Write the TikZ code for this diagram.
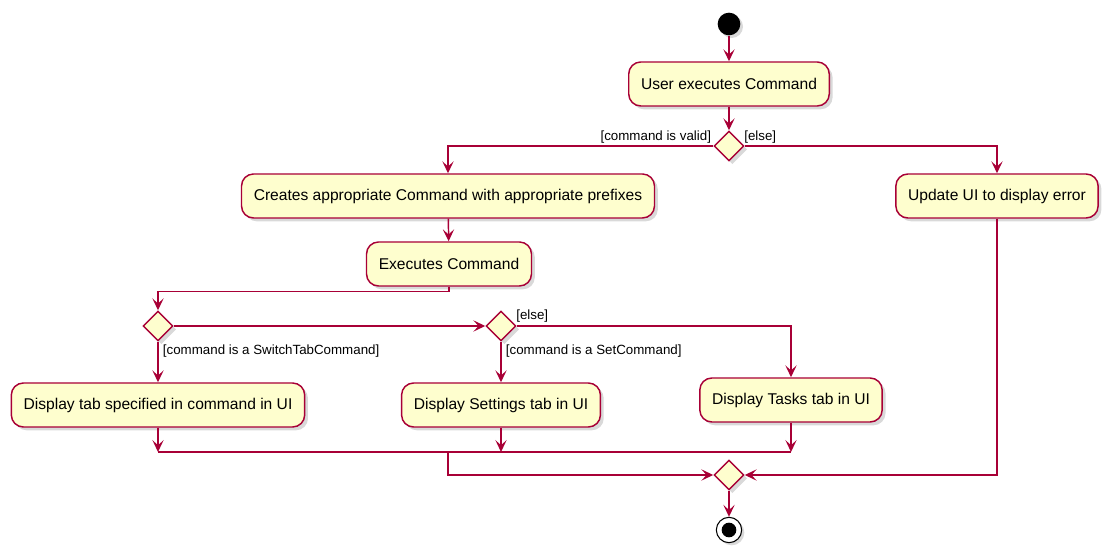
\documentclass[tikz,border=0pt]{standalone}
\usepackage{fontspec}
\setmainfont{Liberation Sans}
\usepackage{tikz}
\usetikzlibrary{shapes.geometric}
\usetikzlibrary{arrows.meta}
\usetikzlibrary{shadows}
\definecolor{umlred}{HTML}{A80036}
\definecolor{umlfill}{HTML}{FEFECE}

\begin{document}
\begin{tikzpicture}[x=0.75pt,y=-0.75pt,
        action/.style={draw=umlred,fill=umlfill,line width=1.1pt,rounded corners=9pt,
            minimum height=33pt,inner xsep=9.2pt,font=\fontsize{11.7pt}{14pt}\selectfont,
            drop shadow={shadow xshift=2.5pt,shadow yshift=-2.5pt,opacity=0.3}},
        branch/.style={diamond,draw=umlred,fill=umlfill,line width=1.1pt,inner sep=0pt,
            minimum width=22.5pt,minimum height=22.5pt,
            drop shadow={shadow xshift=2.5pt,shadow yshift=-2.5pt,opacity=0.3}},
        guard/.style={inner sep=1.5pt,font=\fontsize{10pt}{12pt}\selectfont},
        flow/.style={draw=umlred,line width=1.1pt,-{Stealth[length=9pt,width=8.5pt,inset=4pt]}},
        plain/.style={draw=umlred,line width=1.1pt}]
        \useasboundingbox (0,0) rectangle (1108,555);

        \node[circle,fill=black,minimum size=17pt,inner sep=0pt,
            drop shadow={shadow xshift=2pt,shadow yshift=-2pt,opacity=0.3}] (start) at (729,24) {};
        \node[action] (user) at (729,84) {User executes Command};
        \node[branch] (valid) at (729,146) {};
        \node[action] (create) at (448,196) {Creates appropriate Command with appropriate prefixes};
        \node[action] (update) at (997,196) {Update UI to display error};
        \node[action] (exec) at (449,264) {Executes Command};
        \node[branch] (isswitch) at (158,326) {};
        \node[branch] (isset) at (501,326) {};
        \node[action] (showtab) at (158,405) {Display tab specified in command in UI};
        \node[action] (showset) at (501,405) {Display Settings tab in UI};
        \node[action] (showtasks) at (791,400) {Display Tasks tab in UI};
        \node[branch] (merge) at (729,475) {};
        \node[circle,draw=black,fill=white,line width=0.8pt,minimum size=19pt,inner sep=0pt,
            drop shadow={shadow xshift=2pt,shadow yshift=-2pt,opacity=0.3}] (stop) at (729,530) {};
        \node[circle,fill=black,minimum size=11pt,inner sep=0pt] (stopdot) at (stop) {};

        \coordinate (jtab) at (158,452);
        \coordinate (jset) at (501,452);
        \coordinate (jtasks) at (791,452);
        \coordinate (jout) at (448,452);

        \draw[flow] (start) -- (user);
        \draw[flow] (user) -- (valid);
        \draw[flow] (valid.west) -| (create.north);
        \node[guard,anchor=south east] (gvalid) at (valid.west) {[command is valid]};
        \draw[flow] (valid.east) -| (update.north);
        \node[guard,anchor=south west] (gelse) at ([xshift=-2pt]valid.east) {[else]};
        \draw[flow] (create) -- (exec);
        \draw[flow] (exec.south) -- ++(0,5) -| (isswitch.north);
        \draw[flow] (isswitch.east) -- (isset.west);
        \draw[flow] (isswitch.south) -- (showtab.north);
        \node[guard,anchor=north west] (gswitch) at ([xshift=2pt,yshift=-1pt]isswitch.south) {[command is a SwitchTabCommand]};
        \draw[flow] (isset.south) -- (showset.north);
        \node[guard,anchor=north west] (gset) at ([xshift=2pt,yshift=-1pt]isset.south) {[command is a SetCommand]};
        \draw[flow] (isset.east) -| (showtasks.north);
        \node[guard,anchor=south west] (gelse2) at ([xshift=-2pt,yshift=1pt]isset.east) {[else]};

        \draw[flow] (showtab) -- (jtab);
        \draw[flow] (showset) -- (jset);
        \draw[flow] (showtasks) -- (jtasks);
        \draw[plain] (jtab) -- (jtasks);
        \draw[flow] (jout) |- (merge.west);
        \draw[flow] (update.south) |- (merge.east);
        \draw[flow] (merge) -- (stop);
    \end{tikzpicture}
\end{document}
